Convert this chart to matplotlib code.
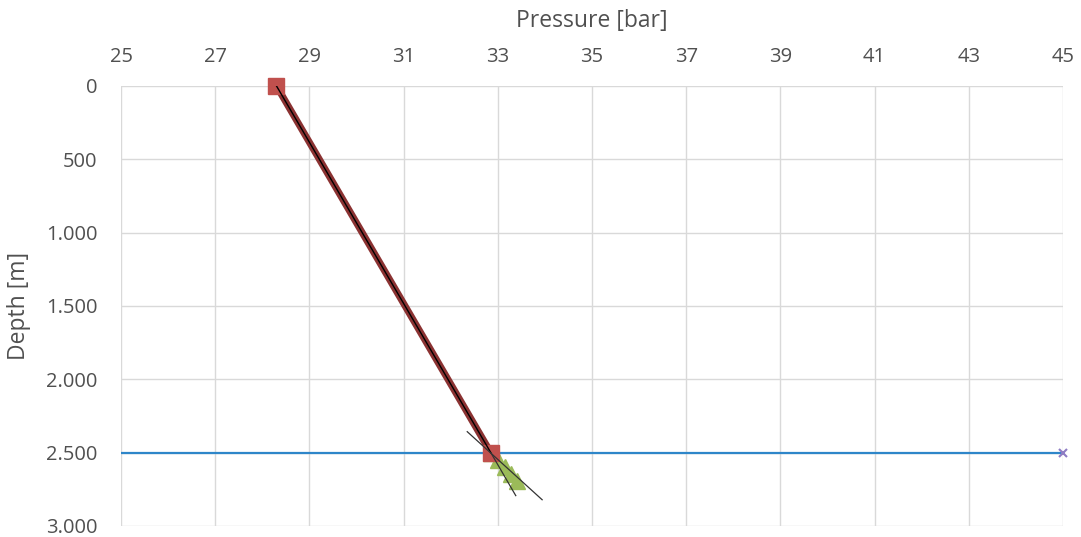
import matplotlib.pyplot as plt
from matplotlib.ticker import FuncFormatter

# gradient line (top to reservoir)
grad_p = [28.3, 32.85]
grad_d = [0, 2500]
# green measured points below contact
meas_p = [32.85, 33.0, 33.15, 33.28, 33.41]
meas_d = [2500, 2550, 2600, 2645, 2693]
# black tangent lines
tan1_p = [32.35, 33.94]
tan1_d = [2357, 2821]
tan2_p = [32.85, 33.38]
tan2_d = [2500, 2793]
# contact level
contact_p = [25, 45]
contact_d = [2500, 2500]

plt.rcParams['font.family'] = ['Open Sans', 'DejaVu Sans']
fig = plt.figure(figsize=(10.81, 5.37), dpi=100)
ax = fig.add_axes([0.112, 0.0205, 0.8714, 0.8194])

ax.plot(contact_p, contact_d, color="#2E86C9", linewidth=1.6, zorder=3)
ax.plot([contact_p[1]], [contact_d[1]], marker="x", color="#8E7CC3", markersize=6, mew=1.5, zorder=4, clip_on=False)
ax.plot(meas_p, meas_d, color="#9BBB59", linewidth=3.5, marker="^", markersize=11, zorder=4)
ax.plot(grad_p, grad_d, color="#8B3232", linewidth=5, zorder=5)
ax.plot(grad_p, grad_d, color="black", linewidth=1, zorder=6)
ax.plot(grad_p, grad_d, linestyle="none", marker="s", markersize=12, color="#C0504D", zorder=5, clip_on=False)
ax.plot(tan1_p, tan1_d, color="#333333", linewidth=0.9, zorder=7)
ax.plot(tan2_p, tan2_d, color="#333333", linewidth=0.9, zorder=7)

ax.set_xlim(25, 45)
ax.set_ylim(3000, 0)
ax.set_xticks(range(25, 46, 2))
ax.set_yticks(range(0, 3001, 500))
ax.yaxis.set_major_formatter(FuncFormatter(lambda v, p: "{:,}".format(int(v)).replace(",", ".")))
ax.xaxis.tick_top()
ax.xaxis.set_label_position("top")
ax.tick_params(length=0, labelsize=14.5, colors="#505050")
ax.tick_params(axis="x", pad=14)
ax.tick_params(axis="y", pad=17)
ax.grid(True, color="#D9D9D9", linewidth=1)
ax.set_axisbelow(True)
for s in ax.spines.values():
    s.set_visible(False)
ax.set_xlabel("Pressure [bar]", fontsize=16.5, color="#505050", labelpad=14)
ax.set_ylabel("Depth [m]", fontsize=16.5, color="#505050", labelpad=11)

plt.savefig("out.png", dpi=100)
